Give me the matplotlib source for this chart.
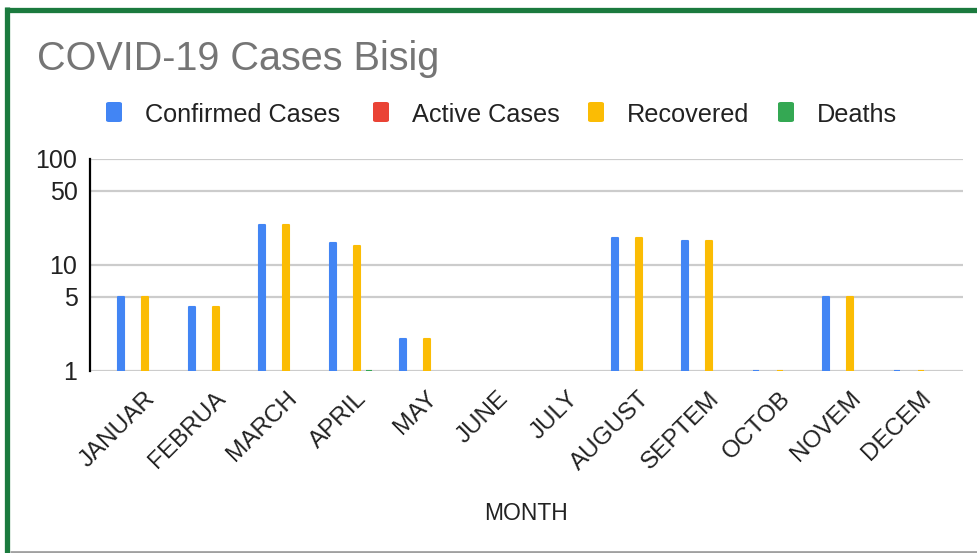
import matplotlib
matplotlib.use("Agg")
import matplotlib.pyplot as plt
from matplotlib.patches import FancyBboxPatch
from matplotlib.lines import Line2D
import numpy as np

months = ["JANUAR", "FEBRUA", "MARCH", "APRIL", "MAY", "JUNE", "JULY",
          "AUGUST", "SEPTEM", "OCTOB", "NOVEM", "DECEM"]
confirmed = [5, 4, 24, 16, 2, 0, 0, 18, 17, 1, 5, 1]
active = [0, 0, 0, 0, 0, 0, 0, 0, 0, 0, 0, 0]
recovered = [5, 4, 24, 15, 2, 0, 0, 18, 17, 1, 5, 1]
deaths = [0, 0, 0, 1, 0, 0, 0, 0, 0, 0, 0, 0]

series = [("Confirmed Cases", confirmed, "#4285F4"),
          ("Active Cases", active, "#EA4335"),
          ("Recovered", recovered, "#FBBC04"),
          ("Deaths", deaths, "#34A853")]

W, H = 978, 553
plt.rcParams['font.family'] = ['Liberation Sans', 'DejaVu Sans']
fig = plt.figure(figsize=(W / 100, H / 100), dpi=100)

ax_l, ax_r, ax_t, ax_b = 90, 963, 159, 371
ax = fig.add_axes([ax_l / W, 1 - ax_b / H, (ax_r - ax_l) / W, (ax_b - ax_t) / H])
ax.set_yscale('log')

spacing = 70.5  # px per category
px = 1 / spacing
x = np.arange(len(months))
offsets = [-18, -6, 6, 18]
for (name, vals, col), off in zip(series, offsets):
    v = np.array(vals, dtype=float)
    mask = v >= 1
    ax.bar(x[mask] + off * px, v[mask] - 1, bottom=1, width=6 * px, color=col,
           edgecolor=col, linewidth=1.5, joinstyle='round', zorder=3)

ax.set_ylim(1, 100)
ax.set_xlim(-49 * px, 11 + 48 * px)
yt = [1, 5, 10, 50, 100]
ax.set_yticks(yt)
ax.set_yticklabels([str(t) for t in yt], fontsize=18, color='#222222')
ax.yaxis.set_minor_locator(matplotlib.ticker.NullLocator())
for t in yt:
    ax.axhline(t, color='#cccccc', lw=1.6, zorder=1)
ax.tick_params(axis='y', length=0, pad=9)
ax.tick_params(axis='x', length=0)
for s in ['top', 'right', 'bottom']:
    ax.spines[s].set_visible(False)
ax.spines['left'].set_linewidth(1.6)
ax.spines['left'].set_color('#000000')
ax.spines['left'].set_zorder(4)

ax.set_xticks(x)
ax.set_xticklabels([])
for i, m in enumerate(months):
    ax.annotate(m, xy=(i, 1), xycoords='data', xytext=(13, -24), textcoords='offset pixels',
                rotation=45, ha='right', va='center', rotation_mode='anchor',
                fontsize=17.5, color='#222222', annotation_clip=False)

fig.text((484 + 568) / 2 / W, 1 - 513 / H, "MONTH", ha='center', va='center',
         fontsize=16.5, color='#222222')

fig.text(37 / W, 1 - 59 / H, "COVID-19 Cases Bisig", ha='left', va='center',
         fontsize=28.5, color='#757575')

# legend drawn manually to match Google Charts spacing
leg_text_x = [145, 412, 627, 817]
leg_y = 112
for (name, _, col), tx in zip(series, leg_text_x):
    sq = FancyBboxPatch(((tx - 39) / W, (H - leg_y - 10) / H), 16 / W, 20 / H,
                        boxstyle="round,pad=0,rounding_size=0.003",
                        transform=fig.transFigure, facecolor=col, edgecolor='none')
    fig.add_artist(sq)
    fig.text(tx / W, 1 - leg_y / H, name, ha='left', va='center_baseline',
             fontsize=18.2, color='#222222')

green = '#1b7a3e'
fig.add_artist(Line2D([5 / W, 1], [1 - 9.5 / H, 1 - 9.5 / H], transform=fig.transFigure,
                      color=green, lw=3.8, solid_capstyle='butt'))
fig.add_artist(Line2D([7.5 / W, 7.5 / W], [1 - 7 / H, 0], transform=fig.transFigure,
                      color=green, lw=3.8, solid_capstyle='butt'))
fig.add_artist(Line2D([10 / W, 1], [1.5 / H, 1.5 / H], transform=fig.transFigure,
                      color='#a0a0a0', lw=2, solid_capstyle='butt'))

fig.savefig("out.png", dpi=100)
